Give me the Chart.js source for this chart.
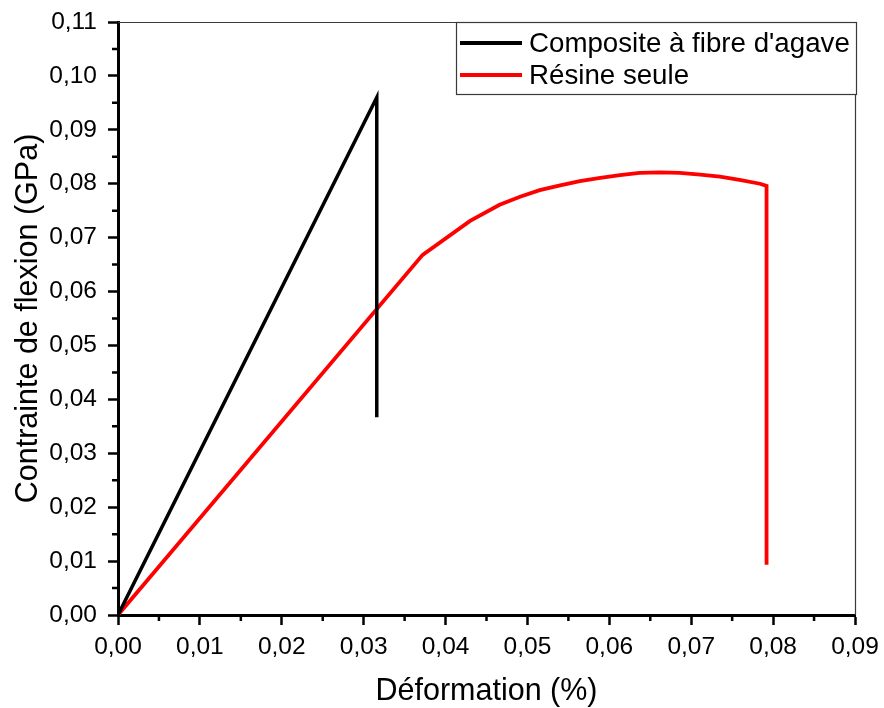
<!DOCTYPE html>
<html lang="fr">
<head>
<meta charset="utf-8">
<title>Contrainte de flexion</title>
<script src="https://cdn.jsdelivr.net/npm/chart.js@4.4.1/dist/chart.umd.min.js"></script>
<style>
  html, body { margin: 0; padding: 0; background: #fff; }
  #wrap { width: 884px; height: 708px; position: relative; }
</style>
</head>
<body>
<div id="wrap"><canvas id="flexChart"></canvas></div>
<script>
// Essais de flexion : déformation (%) / contrainte (GPa)
const compositeStrain = [0, 0.0316, 0.0316];
const compositeStress = [0, 0.0960, 0.0367];

const resinStrain = [0, 0.0372, 0.0430, 0.0466, 0.0491, 0.0515, 0.0540, 0.0564, 0.0589, 0.0613,
  0.0637, 0.0662, 0.0686, 0.0711, 0.0735, 0.0759, 0.0784, 0.0792, 0.0792];
const resinStress = [0, 0.0668, 0.0731, 0.0761, 0.0776, 0.0788, 0.0797, 0.0805, 0.0811, 0.0816,
  0.0820, 0.0821, 0.0820, 0.0817, 0.0813, 0.0807, 0.0800, 0.0796, 0.0093];

const seriesLabels = ['Composite à fibre d\'agave', 'Résine seule'];
const seriesColors = ['#000000', '#ff0000'];

const X_MIN = 0, X_MAX = 0.09, Y_MIN = 0, Y_MAX = 0.11, STEP = 0.01;

const FONT = "Arial, 'Liberation Sans', sans-serif";

const toPoints = (xs, ys) => xs.map((x, i) => ({ x, y: ys[i] }));
const fmt = (v) => v.toFixed(2).replace('.', ',');

// minor ticks, top/right frame and the boxed legend
const framePlugin = {
  id: 'frame',
  afterDraw(chart) {
    const { ctx, chartArea: a, scales } = chart;
    ctx.save();

    // thin frame on top and right
    ctx.strokeStyle = '#3a3a3a';
    ctx.lineWidth = 1.2;
    ctx.beginPath();
    ctx.moveTo(a.left, a.top + 0.5);
    ctx.lineTo(a.right + 0.5, a.top + 0.5);
    ctx.lineTo(a.right + 0.5, a.bottom);
    ctx.stroke();

    // minor ticks half way between the major ones
    ctx.strokeStyle = '#000';
    ctx.lineWidth = 2.5;
    ctx.beginPath();
    for (let v = X_MIN + STEP / 2; v < X_MAX; v += STEP) {
      const px = scales.x.getPixelForValue(v);
      ctx.moveTo(px, a.bottom);
      ctx.lineTo(px, a.bottom + 6);
    }
    for (let v = Y_MIN + STEP / 2; v < Y_MAX; v += STEP) {
      const py = scales.y.getPixelForValue(v);
      ctx.moveTo(a.left, py);
      ctx.lineTo(a.left - 6, py);
    }
    ctx.stroke();

    // legend box in the upper right corner
    const boxW = 400, boxH = 72;
    const bx = a.right + 1 - boxW, by = a.top;
    ctx.fillStyle = '#fff';
    ctx.fillRect(bx, by, boxW, boxH);
    ctx.strokeStyle = '#3a3a3a';
    ctx.lineWidth = 1.2;
    ctx.strokeRect(bx + 0.5, by + 0.5, boxW, boxH);

    ctx.font = '27.7px ' + FONT;
    ctx.textBaseline = 'middle';
    chart.data.datasets.forEach((ds, i) => {
      const rowY = by + 21 + i * 32;
      ctx.strokeStyle = ds.borderColor;
      ctx.lineWidth = 4;
      ctx.beginPath();
      ctx.moveTo(bx + 4, rowY);
      ctx.lineTo(bx + 66, rowY);
      ctx.stroke();
      ctx.fillStyle = '#000';
      ctx.fillText(ds.label, bx + 73, rowY + 1);
    });

    ctx.restore();
  },
};

new Chart(document.getElementById('flexChart'), {
  type: 'line',
  data: {
    datasets: [
      {
        label: seriesLabels[0],
        data: toPoints(compositeStrain, compositeStress),
        borderColor: seriesColors[0],
        borderWidth: 3.5,
        pointRadius: 0,
        tension: 0,
      },
      {
        label: seriesLabels[1],
        data: toPoints(resinStrain, resinStress),
        borderColor: seriesColors[1],
        borderWidth: 3.8,
        pointRadius: 0,
        tension: 0,
      },
    ],
  },
  options: {
    responsive: true,
    maintainAspectRatio: false,
    animation: false,
    events: [],
    layout: { padding: { top: 22, right: 29, left: 0, bottom: 0 } },
    plugins: {
      legend: { display: false },
      tooltip: { enabled: false },
    },
    scales: {
      x: {
        type: 'linear',
        min: X_MIN,
        max: X_MAX,
        // fixed band under the plot, no extra side padding for end labels
        afterFit: (scale) => {
          scale.height = 93;
          scale.paddingLeft = 0;
          scale.paddingRight = 0;
        },
        ticks: {
          stepSize: STEP,
          color: '#000',
          padding: 8,
          maxRotation: 0,
          font: { family: FONT, size: 24.5 },
          callback: (v) => fmt(v),
        },
        grid: {
          drawOnChartArea: false,
          drawTicks: true,
          tickLength: 10,
          tickWidth: 2.5,
          tickColor: '#000',
        },
        border: { display: true, color: '#000', width: 3 },
        title: {
          display: true,
          text: 'Déformation (%)',
          color: '#000',
          padding: { top: 0, bottom: 0 },
          font: { family: FONT, size: 30.5, lineHeight: 1.05 },
        },
      },
      y: {
        type: 'linear',
        min: Y_MIN,
        max: Y_MAX,
        afterFit: (scale) => {
          scale.width = 118;
          scale.paddingTop = 0;
          scale.paddingBottom = 0;
        },
        ticks: {
          stepSize: STEP,
          color: '#000',
          padding: 11,
          font: { family: FONT, size: 24.5 },
          callback: (v) => fmt(v),
        },
        grid: {
          drawOnChartArea: false,
          drawTicks: true,
          tickLength: 10,
          tickWidth: 2.5,
          tickColor: '#000',
        },
        border: { display: true, color: '#000', width: 3 },
        title: {
          display: true,
          text: 'Contrainte de flexion (GPa)',
          color: '#000',
          padding: { top: 10, bottom: 0 },
          font: { family: FONT, size: 30.5 },
        },
      },
    },
  },
  plugins: [framePlugin],
});
</script>
</body>
</html>
